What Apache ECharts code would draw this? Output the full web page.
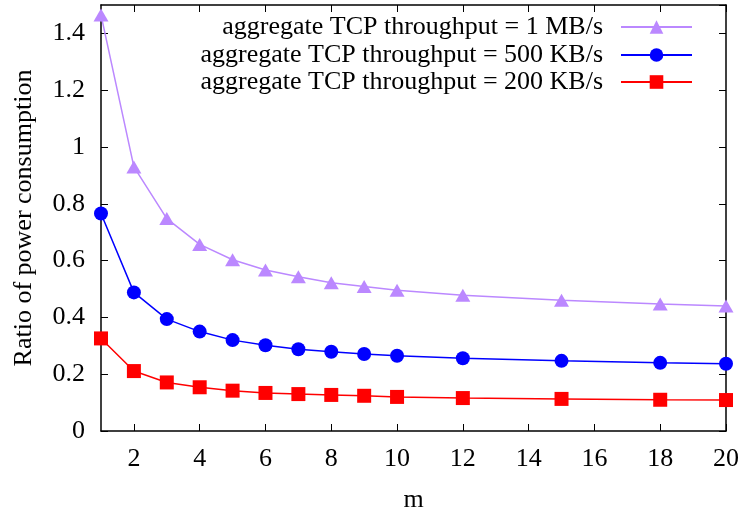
<!DOCTYPE html>
<html>
<head>
<meta charset="utf-8">
<script src="https://cdn.jsdelivr.net/npm/echarts@6/dist/echarts.min.js"></script>
<style>html,body{margin:0;padding:0;background:#fff}#c{width:746px;height:518px}</style>
</head>
<body>
<div id="c"></div>
<script>
const mValues = [1, 2, 3, 4, 5, 6, 7, 8, 9, 10, 12, 15, 18, 20];
const tput1MB = [1.465, 0.93, 0.748, 0.657, 0.603, 0.567, 0.543, 0.522, 0.509, 0.496, 0.478, 0.460, 0.447, 0.440];
const tput500KB = [0.766, 0.488, 0.394, 0.350, 0.320, 0.302, 0.288, 0.279, 0.271, 0.265, 0.256, 0.247, 0.240, 0.237];
const tput200KB = [0.326, 0.211, 0.171, 0.154, 0.142, 0.134, 0.130, 0.127, 0.124, 0.120, 0.116, 0.113, 0.110, 0.109];
const xTicks = [2, 4, 6, 8, 10, 12, 14, 16, 18, 20];
const seriesNames = ['aggregate TCP throughput = 1 MB/s', 'aggregate TCP throughput = 500 KB/s', 'aggregate TCP throughput = 200 KB/s'];

const FONT = 'Liberation Serif';
const FS = 26;
const pairs = arr => mValues.map((m, i) => [m, arr[i]]);

const chart = echarts.init(document.getElementById('c'), null, {renderer: 'canvas'});
const baseX = {
  type: 'value', min: 1, max: 20,
  axisLine: {show: true, onZero: false, lineStyle: {color: '#000', width: 1.5}},
  axisTick: {show: true, inside: true, length: 7, customValues: xTicks, lineStyle: {color: '#000'}},
  splitLine: {show: false}
};
const baseY = {
  type: 'value', min: 0, max: 1.5, interval: 0.2,
  axisLine: {show: true, onZero: false, lineStyle: {color: '#000', width: 1.5}},
  axisTick: {show: true, inside: true, length: 7, lineStyle: {color: '#000'}},
  splitLine: {show: false}
};
const legendBase = {
  right: 48, orient: 'vertical', align: 'right', itemWidth: 71, itemHeight: 17,
  textStyle: {fontFamily: FONT, fontSize: FS, color: '#000', padding: [0, 13, 0, 0]},
  selectedMode: false
};
chart.setOption({
  animation: false,
  textStyle: {fontFamily: FONT},
  grid: {left: 101, right: 20, top: 5, bottom: 84},
  legend: [
    Object.assign({}, legendBase, {top: 9, data: [seriesNames[0]]}),
    Object.assign({}, legendBase, {top: 37, data: [seriesNames[1]]}),
    Object.assign({}, legendBase, {top: 64, data: [seriesNames[2]]})
  ],
  xAxis: [
    Object.assign({}, baseX, {
      position: 'bottom', name: 'm', nameLocation: 'middle', nameGap: 56,
      nameTextStyle: {fontFamily: FONT, fontSize: FS, color: '#000'},
      axisLabel: {show: true, customValues: xTicks, margin: 15, fontFamily: FONT, fontSize: FS, color: '#000'}
    }),
    Object.assign({}, baseX, {position: 'top', axisLabel: {show: false}})
  ],
  yAxis: [
    Object.assign({}, baseY, {
      position: 'left', name: 'Ratio of power consumption', nameLocation: 'middle', nameGap: 64,
      nameTextStyle: {fontFamily: FONT, fontSize: FS, color: '#000'},
      axisLabel: {show: true, margin: 16, fontFamily: FONT, fontSize: FS, color: '#000', showMaxLabel: false,
        formatter: v => (Math.abs(v - 1.5) < 1e-9 ? '' : String(Math.round(v * 10) / 10))}
    }),
    Object.assign({}, baseY, {position: 'right', axisLabel: {show: false}})
  ],
  series: [
    {name: seriesNames[0], type: 'line', data: pairs(tput1MB), symbol: 'triangle', symbolSize: [15, 13],
     clip: false, color: '#bb88ff', lineStyle: {width: 1.5, color: '#bb88ff'}, itemStyle: {color: '#bb88ff'}},
    {name: seriesNames[1], type: 'line', data: pairs(tput500KB), symbol: 'circle', symbolSize: 14,
     clip: false, color: '#0000ff', lineStyle: {width: 1.5, color: '#0000ff'}, itemStyle: {color: '#0000ff'}},
    {name: seriesNames[2], type: 'line', data: pairs(tput200KB), symbol: 'rect', symbolSize: 14,
     clip: false, color: '#ff0000', lineStyle: {width: 1.5, color: '#ff0000'}, itemStyle: {color: '#ff0000'}}
  ]
});
</script>
</body>
</html>
